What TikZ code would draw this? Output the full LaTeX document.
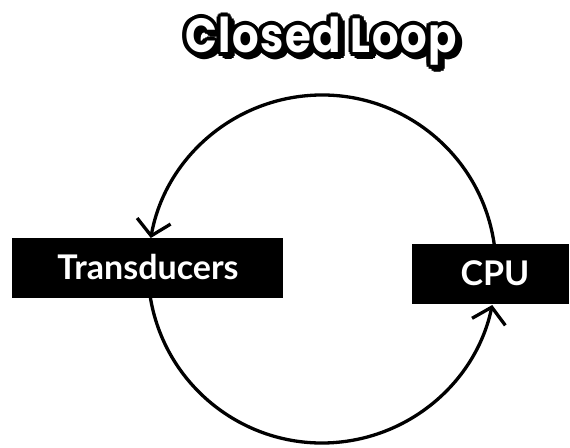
\documentclass[tikz,border=0pt]{standalone}
\usepackage{fontspec}
\newfontfamily\titlefont{Poppins}[LetterSpace=3,FakeStretch=0.87]
\newfontfamily\labelfont{Lato}
\usetikzlibrary{arrows.meta,calc}
\newcommand\bubbletext[1]{%
  \foreach \dx/\dy in {7/-3.5,6/-5.5,3.5/-7,1.5/-6,5.5/-1.5,%
      4/0,3.46/2,2/3.46,0/4,-2/3.46,-3.46/2,-4/0,%
      -3.46/-2,-2/-3.46,0/-4,2/-3.46,3.46/-2}{%
    \rlap{\hspace{\dx pt}\raisebox{\dy pt}{\textcolor{black}{#1}}}}%
  \textcolor{white}{#1}}
\tikzset{
  blackbox/.style={fill=black, draw=none, inner sep=0pt, minimum height=60pt},
  boxlabel/.style={text=white, font=\labelfont\bfseries\fontsize{34}{40}\selectfont, inner sep=0pt},
  titletext/.style={font=\titlefont\bfseries\fontsize{48}{56}\selectfont, inner sep=0pt, anchor=base},
  loopline/.style={line width=3.3pt, line cap=round, -{Straight Barb[length=15pt,width=34pt,line width=3.3pt]}}
}
\begin{document}
\begin{tikzpicture}[x=1pt,y=1pt]
\useasboundingbox (0,0) rectangle (570,447);
\coordinate (c) at (322,178);
% loop arcs
\draw[loopline] (c) ++(8.26:174) coordinate (cputop)
   arc[start angle=8.26, end angle=169.74, radius=174] coordinate (transtop);
\draw[loopline] (c) ++(189.59:174) coordinate (transbot)
   arc[start angle=189.59, end angle=348.06, radius=174] coordinate (cpubot);
% boxes on top
\node[blackbox, minimum width=271pt] (transbox) at (147.5,179) {};
\node[blackbox, minimum width=157pt] (cpubox) at (490.5,173) {};
\node[boxlabel] (translabel) at (148,180) {Transducers};
\node[boxlabel] (cpulabel) at (495,174) {CPU};
% title with outline and shadow
\node[titletext] (title) at (321,394) {\bubbletext{Closed Loop}};
\end{tikzpicture}
\end{document}
